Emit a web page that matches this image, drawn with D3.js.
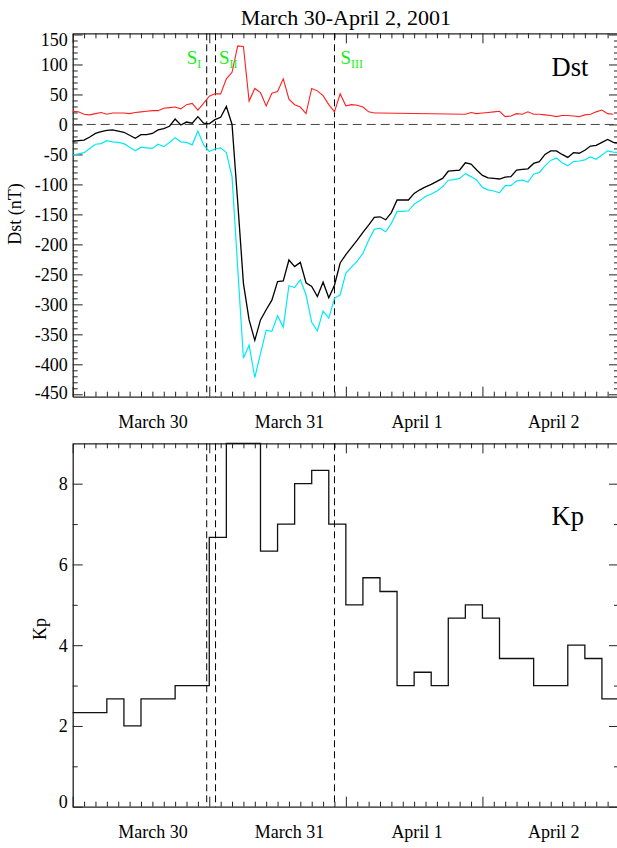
<!DOCTYPE html>
<html>
<head>
<meta charset="utf-8">
<script src="https://cdn.jsdelivr.net/npm/d3@7"></script>
<style>
  body { margin: 0; background: #fff; }
  svg { display: block; font-family: "Liberation Serif", "Times New Roman", serif; }
</style>
</head>
<body>
<div id="chart"></div>
<script>

// hours since March 30 00:00 UT
const hours = d3.range(0, 97)

const dst = [-28, -27, -26, -21, -15, -12, -10, -9, -11, -13, -18, -23, -17, -17, -15, -9,
  -7, -3, 9, -1, 4, 2, 13, 2, 1, 8, 12, 30, 0, -130, -265, -326,
  -360, -326, -309, -293, -262, -261, -226, -237, -230, -264, -270, -287, -263, -289, -268, -231,
  -217, -205, -193, -180, -168, -155, -154, -159, -147, -126, -126, -126, -115, -109, -104, -100,
  -95, -90, -78, -77, -76, -64, -66, -76, -85, -89, -90, -91, -88, -87, -76, -75,
  -74, -65, -62, -50, -44, -44, -50, -55, -47, -48, -43, -36, -35, -30, -25, -30, -31]

const dstCorr = [-51, -49, -47, -40, -33, -32, -27, -29, -30, -32, -38, -44, -38, -39, -40, -33,
  -37, -30, -22, -29, -30, -34, -11, -34, -45, -41, -39, -47, -87, -240, -390, -368,
  -422, -382, -343, -345, -319, -338, -269, -272, -259, -284, -330, -344, -311, -323, -290, -284,
  -248, -238, -228, -215, -193, -175, -173, -179, -165, -145, -145, -144, -133, -127, -120, -116,
  -111, -104, -93, -92, -90, -82, -87, -93, -105, -109, -111, -114, -102, -102, -94, -93,
  -96, -83, -80, -69, -60, -56, -64, -69, -62, -61, -59, -54, -58, -51, -44, -46, -47]

// red curve has a data gap (hours 55-68)
const presHours = d3.range(0, 55).concat(d3.range(69, 96))
const pres = [22, 21, 17, 16, 18, 20, 17, 19, 19, 19, 18, 20, 21, 22, 23, 23,
  27, 28, 29, 26, 33, 35, 24, 35, 47, 51, 51, 76, 87, 131, 130, 39,
  60, 53, 31, 52, 55, 76, 42, 33, 29, 18, 60, 56, 48, 33, 21, 51,
  31, 33, 32, 29, 21, 19, 19,
  17, 20, 18, 19, 20, 21, 22, 13, 14, 18, 17, 21, 17, 17, 16, 15,
  13, 15, 15, 14, 13, 16, 17, 21, 24, 18, 17]

// 3-hourly Kp
const kp = [2.33, 2.33, 2.67, 2.0, 2.67, 2.67, 3.0, 3.0,
  6.67, 9, 9, 6.33, 7.0, 8.0, 8.33, 7.0,
  5.0, 5.67, 5.33, 3.0, 3.33, 3.0, 4.67, 5.0,
  4.67, 3.67, 3.67, 3.0, 3.0, 4.0, 3.67, 2.67]

const events = [23.55, 25.1, 46.0]
const eventNames = ["I", "II", "III"]

const dayNames = ["March 30", "March 31", "April 1", "April 2"]
const dstTicks = d3.range(-450, 151, 50)
const kpTicks = [0, 2, 4, 6, 8]

const width = 617
const height = 848

const x = d3.scaleLinear().domain([0, 96]).range([72.7, 619])
const yDst = d3.scaleLinear().domain([-454, 152]).range([396.7, 33.3])
const yKp = d3.scaleLinear().domain([0, 9]).range([806.7, 443.3])

const svg = d3.select("#chart").append("svg")
    .attr("width", width)
    .attr("height", height)

svg.append("text")
    .attr("x", (x.range()[0] + x.range()[1]) / 2)
    .attr("y", 25)
    .attr("text-anchor", "middle")
    .style("font-size", "22px")
    .text("March 30-April 2, 2001")

function frame(y, majors, minors, labelShift) {
  const [x0, x1] = x.range()
  const [yb, yt] = y.range()
  const g = svg.append("g")

  const dayTicks = d3.range(0, 97, 24)
  const twoHr = d3.range(0, 97, 2).filter(h => h % 24)

  // x ticks, bottom and top
  g.append("g").attr("transform", `translate(0,${yb})`)
      .call(d3.axisBottom(x).tickValues(dayTicks).tickSize(-10).tickSizeOuter(0).tickFormat(""))
  g.append("g").attr("transform", `translate(0,${yb})`)
      .call(d3.axisBottom(x).tickValues(twoHr).tickSize(-5).tickFormat(""))
      .call(a => a.select(".domain").remove())
  g.append("g").attr("transform", `translate(0,${yt})`)
      .call(d3.axisTop(x).tickValues(dayTicks).tickSize(-10).tickSizeOuter(0).tickFormat(""))
  g.append("g").attr("transform", `translate(0,${yt})`)
      .call(d3.axisTop(x).tickValues(twoHr).tickSize(-5).tickFormat(""))
      .call(a => a.select(".domain").remove())

  // y ticks, left and right
  g.append("g").attr("transform", `translate(${x0},0)`)
      .call(d3.axisLeft(y).tickValues(majors).tickSize(-10).tickSizeOuter(0).tickPadding(5).tickFormat(d => String(d)))
      .call(a => a.selectAll("text")
          .style("font-size", "18px")
          .style("font-family", "Liberation Serif, serif")
          .attr("dy", d => (labelShift[d] || 0) + 6))
  g.append("g").attr("transform", `translate(${x0},0)`)
      .call(d3.axisLeft(y).tickValues(minors).tickSize(-5).tickFormat(""))
      .call(a => a.select(".domain").remove())
  g.append("g").attr("transform", `translate(${x1},0)`)
      .call(d3.axisRight(y).tickValues(majors).tickSize(-10).tickSizeOuter(0).tickFormat(""))
  g.append("g").attr("transform", `translate(${x1},0)`)
      .call(d3.axisRight(y).tickValues(minors).tickSize(-5).tickFormat(""))
      .call(a => a.select(".domain").remove())

  g.selectAll(".domain").attr("stroke", "#222").attr("stroke-width", 1.3)
  g.selectAll(".tick line").attr("stroke", "#222")

  // day labels
  g.selectAll(".day")
    .data(dayNames)
    .join("text")
      .attr("class", "day")
      .attr("x", (d, i) => x(i * 24 + 8))
      .attr("y", yb + 31)
      .style("font-size", "18px")
      .text(d => d)

  // event lines
  g.selectAll(".event")
    .data(events)
    .join("line")
      .attr("class", "event")
      .attr("x1", d => x(d)).attr("x2", d => x(d))
      .attr("y1", yt).attr("y2", yb)
      .attr("stroke", "#000")
      .attr("stroke-dasharray", "7,4")

  return g
}

// ---- Dst panel
const dstPanel = frame(yDst, dstTicks, d3.range(-450, 151, 10).filter(v => v % 50), { "150": 5, "-450": -2 })

dstPanel.append("line")
    .attr("x1", x(0)).attr("x2", x(96))
    .attr("y1", yDst(0)).attr("y2", yDst(0))
    .attr("stroke", "#444")
    .attr("stroke-dasharray", "9,5")

const line = d3.line().x(d => x(d[0])).y(d => yDst(d[1]))

dstPanel.append("path")
    .datum(presHours.map((h, i) => [h, pres[i]]))
    .attr("fill", "none").attr("stroke", "#ff2020").attr("stroke-width", 1.1)
    .attr("d", line)

dstPanel.append("path")
    .datum(hours.map((h, i) => [h, dstCorr[i]]))
    .attr("fill", "none").attr("stroke", "#00eaf5").attr("stroke-width", 1.2)
    .attr("d", line)

dstPanel.append("path")
    .datum(hours.map((h, i) => [h, dst[i]]))
    .attr("fill", "none").attr("stroke", "#000").attr("stroke-width", 1.3)
    .attr("d", line)

const sOffset = [-20, 3.5, 6]
events.forEach((e, i) => {
  const t = dstPanel.append("text")
      .attr("x", x(e) + sOffset[i])
      .attr("y", 64)
      .attr("fill", "#11f011")
      .style("font-size", "19px")
      .text("S")
  t.append("tspan")
      .attr("dy", 4)
      .style("font-size", "12px")
      .text(eventNames[i])
})

dstPanel.append("text")
    .attr("x", 551.5).attr("y", 76)
    .style("font-size", "26.5px")
    .text("Dst")

dstPanel.append("text")
    .attr("transform", `translate(21,214) rotate(-90)`)
    .attr("text-anchor", "middle")
    .style("font-size", "18px")
    .text("Dst (nT)")

// ---- Kp panel
const kpPanel = frame(yKp, kpTicks, [1, 3, 5, 7], { "0": -5 })

const kpPoints = kp.map((v, i) => [i * 3, v]).concat([[96, kp[kp.length - 1]]])

kpPanel.append("path")
    .datum(kpPoints)
    .attr("fill", "none").attr("stroke", "#111").attr("stroke-width", 1.3)
    .attr("d", d3.line().curve(d3.curveStepAfter).x(d => x(d[0])).y(d => yKp(d[1])))

kpPanel.append("text")
    .attr("x", 551.5).attr("y", 525)
    .style("font-size", "26.5px")
    .text("Kp")

kpPanel.append("text")
    .attr("transform", `translate(45.5,629) rotate(-90)`)
    .attr("text-anchor", "middle")
    .style("font-size", "18px")
    .text("Kp")

</script>
</body>
</html>
